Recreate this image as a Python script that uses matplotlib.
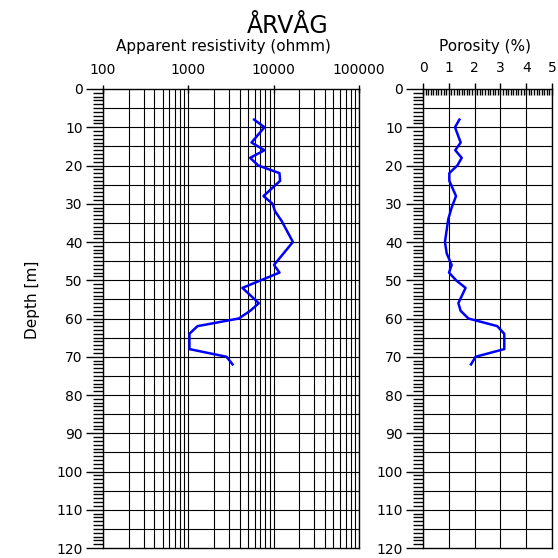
import numpy as np
import matplotlib
matplotlib.use("Agg")
import matplotlib.pyplot as plt
from matplotlib.ticker import FixedLocator, MultipleLocator, LogLocator, NullFormatter

plt.rcParams['font.family'] = ['DejaVu Sans']

title = "ÅRVÅG"
res_depth = [8, 10, 14, 16, 18, 20, 22, 24, 28, 30, 32, 34.5, 40, 46, 48, 52, 56, 58, 60, 62, 64, 68, 70, 72]
resistivity = [5900, 7800, 5500, 7800, 5300, 6600, 11700, 11900, 7600, 9700, 10400, 12400,
               16800, 10100, 11700, 4300, 6700, 5300, 3900, 1280, 1030, 1030, 2800, 3300]
por_depth = [8, 10, 14, 16, 18, 20, 22, 24, 28, 31, 34, 40, 43, 46, 48, 50, 52, 56, 58, 60, 62, 64, 68, 70, 72]
porosity = [1.41, 1.24, 1.46, 1.25, 1.50, 1.33, 1.02, 1.02, 1.28, 1.11, 0.98, 0.85, 0.92, 1.11,
            1.01, 1.28, 1.65, 1.37, 1.46, 1.76, 2.88, 3.15, 3.15, 2.04, 1.86]
res_ticks = [100, 1000, 10000, 100000]
por_ticks = [0, 1, 2, 3, 4, 5]
depth_ticks = list(range(0, 121, 10))

W = H = 558
fig = plt.figure(figsize=(5.58, 5.58), dpi=100)

def ax_rect(x0, x1, y0, y1):
    return [x0 / W, 1 - y1 / H, (x1 - x0) / W, (y1 - y0) / H]

ax1 = fig.add_axes(ax_rect(103, 359, 89, 548))
ax2 = fig.add_axes(ax_rect(423, 552, 89, 548))

for ax in (ax1, ax2):
    ax.set_ylim(120, 0)
    ax.yaxis.set_major_locator(FixedLocator(depth_ticks))
    ax.yaxis.set_minor_locator(MultipleLocator(1))
    ax.tick_params(axis='y', which='major', direction='out', length=12, width=1.0,
                   labelsize=10, pad=2.5)
    ax.tick_params(axis='y', which='minor', direction='out', length=7, width=1.0)
    ax.tick_params(axis='x', which='both', top=True, bottom=False, labeltop=True,
                   labelbottom=False)
    ax.tick_params(axis='x', which='major', direction='inout', length=6, width=1.0,
                   labelsize=10, pad=6)
    ax.tick_params(axis='y', right=False)
    for s in ax.spines.values():
        s.set_linewidth(1.0)
    for d in range(5, 120, 5):
        ax.axhline(d, color='black', lw=0.8, zorder=1)

# Resistivity
ax1.set_xscale('log')
ax1.set_xlim(100, 100000)
ax1.xaxis.set_major_locator(FixedLocator(res_ticks))
ax1.set_xticklabels([str(t) for t in res_ticks])
ax1.xaxis.set_minor_locator(LogLocator(base=10, subs=np.arange(2, 10)))
ax1.xaxis.set_minor_formatter(NullFormatter())
ax1.tick_params(axis='x', which='minor', length=0)
ax1.grid(True, axis='x', which='both', color='black', lw=0.8, zorder=1)
ax1.plot(resistivity, res_depth, color='#0000ff', lw=1.8, zorder=3)

# Porosity
ax2.set_xlim(0, 5)
ax2.xaxis.set_major_locator(FixedLocator(por_ticks))
ax2.xaxis.set_minor_locator(MultipleLocator(0.1))
ax2.tick_params(axis='x', which='minor', direction='in', length=4, width=1.0)
ax2.tick_params(axis='x', which='major', direction='inout', length=8)
ax2.grid(True, axis='x', which='major', color='black', lw=0.8, zorder=1)
ax2.plot(porosity, por_depth, color='#0000ff', lw=1.8, zorder=3)

fig.text(288 / W, 1 - 26 / H, title, ha='center', va='center', fontsize=17)
fig.text(223 / W, 1 - 47 / H, "Apparent resistivity (ohmm)", ha='center', va='center', fontsize=11)
fig.text(485 / W, 1 - 47 / H, "Porosity (%)", ha='center', va='center', fontsize=11)
fig.text(33 / W, 1 - 300 / H, "Depth [m]", ha='center', va='center', rotation=90, fontsize=11)

fig.savefig("out.png", dpi=100)
